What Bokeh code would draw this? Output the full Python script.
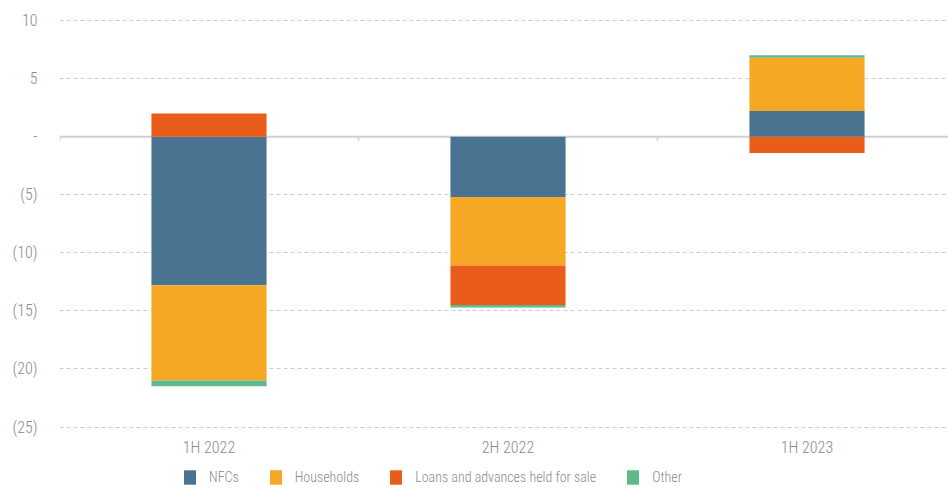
from bokeh.plotting import figure
from bokeh.models import (ColumnDataSource, Range1d, FixedTicker, Span, Legend,
                          LegendItem)
from bokeh.core.properties import value
from bokeh.embed import file_html
from bokeh.resources import INLINE

categories = ["1H 2022", "2H 2022", "1H 2023"]
series_names = ["NFCs", "Households", "Loans and advances held for sale", "Other"]
nfcs = [-12.8, -5.2, 2.2]
households = [-8.2, -5.9, 4.6]
loans = [2.0, -3.4, -1.4]
other = [-0.5, -0.2, 0.2]
colors = ["#4A7391", "#F5A823", "#EA5C19", "#5FB98A"]

y_ticks = [10, 5, 0, -5, -10, -15, -20, -25]
y_tick_labels = ["10", "5", "-", "(5)", "(10)", "(15)", "(20)", "(25)"]

FONT = "'Roboto Condensed Light', 'Roboto Condensed', sans-serif"
TEXT_COLOR = "#8a8a8a"

n = len(categories)
xs = list(range(n))

FW, FH = 889, 476
PX_PER_UNIT = 11.616
Y_TOP = 10.6
Y_BOTTOM = Y_TOP - FH / PX_PER_UNIT
CAT_LABEL_Y = min(y_ticks) - 1.77   # category labels just under the lowest gridline

p = figure(frame_width=FW, frame_height=FH, output_backend="svg",
           toolbar_location=None, x_range=Range1d(-0.5, -0.5 + FW / 299),
           y_range=Range1d(Y_BOTTOM, Y_TOP), x_axis_location=None,
           min_border_left=59, min_border_right=0, min_border_top=13,
           min_border_bottom=0)
p.outline_line_color = None
p.background_fill_color = "white"

# stacked bars: positives stacked upward, negatives downward, in series order
pos = [0.0] * n
neg = [0.0] * n
renderers = []
for name, vals, col in zip(series_names, [nfcs, households, loans, other], colors):
    bottoms, tops = [], []
    for i, v in enumerate(vals):
        if v >= 0:
            bottoms.append(pos[i]); tops.append(pos[i] + v); pos[i] += v
        else:
            tops.append(neg[i]); bottoms.append(neg[i] + v); neg[i] += v
    src = ColumnDataSource(dict(x=xs, top=tops, bottom=bottoms))
    r = p.vbar(x="x", top="top", bottom="bottom", width=0.385, source=src,
               fill_color=col, line_color=None)
    renderers.append((name, r))

# zero line and category boundary ticks
p.add_layout(Span(location=0, dimension="width", line_color="#d0d0d0",
                  line_width=2, level="underlay"))
bx = [i - 0.5 for i in range(n + 1)]
p.segment(x0=bx, x1=bx, y0=[0] * len(bx), y1=[-0.35] * len(bx),
          line_color="#d0d0d0", line_width=1.5)

# category labels
p.text(x=xs, y=[CAT_LABEL_Y] * n, text=categories, text_align="center",
       text_baseline="middle", text_font=value(FONT), text_font_size="16px",
       text_color=TEXT_COLOR)

# y axis
p.yaxis.ticker = FixedTicker(ticks=y_ticks)
p.yaxis.major_label_overrides = {t: l for t, l in zip(y_ticks, y_tick_labels)}
p.yaxis.axis_line_color = None
p.yaxis.major_tick_line_color = None
p.yaxis.minor_tick_line_color = None
p.yaxis.major_label_standoff = 16
p.yaxis.major_label_text_font = FONT
p.yaxis.major_label_text_font_size = "16px"
p.yaxis.major_label_text_color = TEXT_COLOR

p.ygrid.ticker = FixedTicker(ticks=[t for t in y_ticks if t != 0])
p.ygrid.grid_line_color = "#cccccc"
p.ygrid.grid_line_dash = "4 3"
p.ygrid.grid_line_width = 1
p.xgrid.grid_line_color = None

legend = Legend(items=[LegendItem(label=nm, renderers=[r]) for nm, r in renderers],
                orientation="horizontal", location=(123, 3),
                border_line_color=None, background_fill_alpha=0,
                glyph_width=15, glyph_height=18, label_standoff=12, spacing=29,
                padding=0, margin=0, label_height=18,
                label_text_font=FONT, label_text_font_size="14px",
                label_text_color=TEXT_COLOR, label_text_baseline="middle")
p.add_layout(legend, "center")

open("out.html", "w").write(file_html(p, INLINE))
